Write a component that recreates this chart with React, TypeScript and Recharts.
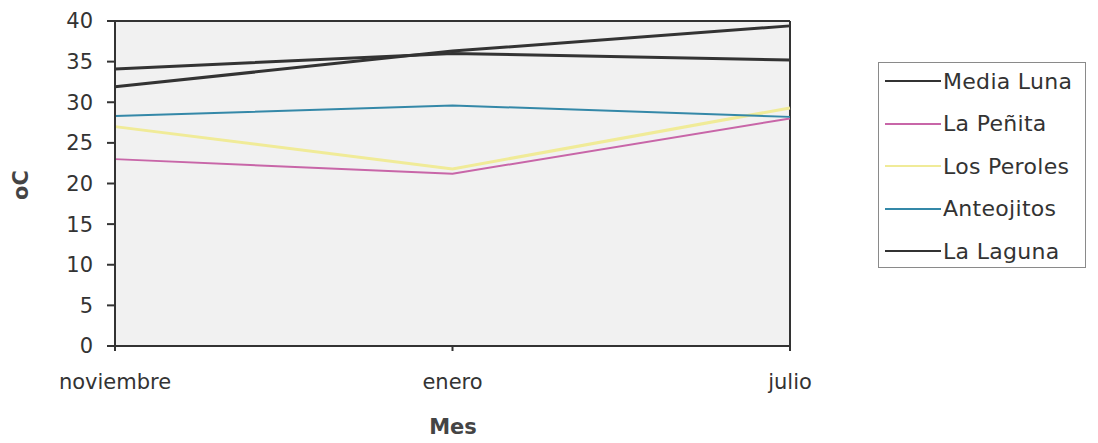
import React from 'react';
import { LineChart, Line, XAxis, YAxis, CartesianGrid, ReferenceLine, Label } from 'recharts';

const months = ['noviembre', 'enero', 'julio'];
const mediaLuna = [31.9, 36.3, 39.4];
const laPenita = [23.0, 21.2, 28.0];
const losPeroles = [27.0, 21.8, 29.3];
const anteojitos = [28.3, 29.6, 28.2];
const laLaguna = [34.1, 36.0, 35.2];
const yTicks = [0, 5, 10, 15, 20, 25, 30, 35, 40];

const series = [
    { key: 'Media Luna', color: '#333333', width: 3 },
    { key: 'La Peñita', color: '#c866a8', width: 2 },
    { key: 'Los Peroles', color: '#f0eb98', width: 3 },
    { key: 'Anteojitos', color: '#3488a8', width: 2 },
    { key: 'La Laguna', color: '#333333', width: 3 },
];

const data = months.map((m, i) => ({
    mes: m,
    'Media Luna': mediaLuna[i],
    'La Peñita': laPenita[i],
    'Los Peroles': losPeroles[i],
    'Anteojitos': anteojitos[i],
    'La Laguna': laLaguna[i],
}));

const font = '"DejaVu Sans", sans-serif';

// legend drawn as a plain box to the right of the plot
const LegendBox = () => (
    <div
        style={{
            position: 'absolute',
            left: 878,
            top: 62,
            width: 208,
            height: 206,
            border: '1px solid #8a8a8a',
            background: '#ffffff',
            boxSizing: 'border-box',
        }}
    >
        {series.map((s, i) => (
            <div
                key={s.key}
                style={{ position: 'absolute', left: 0, top: 18 + 42.5 * i - 15, height: 30, display: 'flex', alignItems: 'center' }}
            >
                <div style={{ width: 56, height: 0, borderTop: `2px solid ${s.color}`, marginLeft: 6 }} />
                <span style={{ fontFamily: font, fontSize: 22, letterSpacing: 0.3, color: '#333', marginLeft: 2, whiteSpace: 'nowrap' }}>
                    {s.key}
                </span>
            </div>
        ))}
    </div>
);

const App: React.FC = () => {
    return (
        <div style={{ position: 'absolute', left: 0, top: 0, width: 1098, height: 443, background: '#fff' }}>
            <LineChart width={1098} height={443} data={data} margin={{ top: 21, right: 308, bottom: 0, left: 0 }}>
                <CartesianGrid horizontal={false} vertical={false} fill="#f1f1f1" />
                <XAxis
                    dataKey="mes"
                    height={97}
                    stroke="#333"
                    strokeWidth={2}
                    tickSize={5}
                    tickMargin={23}
                    tick={{ fill: '#333', fontFamily: font, fontSize: 21 }}
                >
                    <Label
                        content={() => (
                            <text x={453} y={434} textAnchor="middle" fontFamily={font} fontSize={21} fontWeight="bold" fill="#444">
                                Mes
                            </text>
                        )}
                    />
                </XAxis>
                <YAxis
                    width={115}
                    domain={[0, 40]}
                    ticks={yTicks}
                    stroke="#333"
                    strokeWidth={2}
                    tickSize={8}
                    tickMargin={14}
                    tick={{ fill: '#333', fontFamily: font, fontSize: 21 }}
                >
                    <Label
                        content={() => (
                            <text
                                x={28}
                                y={185}
                                transform="rotate(-90 28 185)"
                                textAnchor="middle"
                                fontFamily={font}
                                fontSize={21}
                                fontWeight="bold"
                                fill="#444"
                            >
                                oC
                            </text>
                        )}
                    />
                </YAxis>
                <ReferenceLine y={40} stroke="#333" strokeWidth={2} />
                <ReferenceLine x="julio" stroke="#333" strokeWidth={2} />
                {series.map((s) => (
                    <Line
                        key={s.key}
                        type="linear"
                        dataKey={s.key}
                        stroke={s.color}
                        strokeWidth={s.width}
                        dot={false}
                        isAnimationActive={false}
                    />
                ))}
            </LineChart>
            <LegendBox />
        </div>
    );
};

export default App;
